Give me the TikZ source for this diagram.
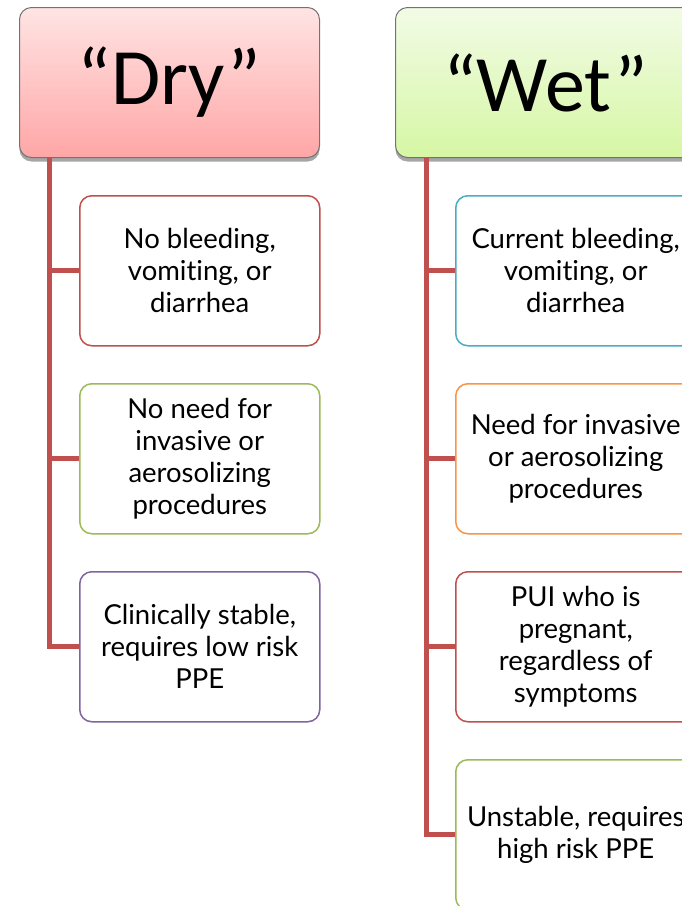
\documentclass[tikz,border=0pt]{standalone}
\usepackage{fontspec}
\setmainfont[Ligatures=NoCommon]{Lato}
\newfontfamily\headfont{Carlito}
\usetikzlibrary{shadows}
\definecolor{cred}{HTML}{C0504D}
\definecolor{cgreen}{HTML}{9BBB59}
\definecolor{cpurple}{HTML}{8064A2}
\definecolor{cblue}{HTML}{4BACC6}
\definecolor{corange}{HTML}{F79646}
\definecolor{dtop}{HTML}{FFE4E4}
\definecolor{dbot}{HTML}{FFA6A6}
\definecolor{wtop}{HTML}{F2FBE6}
\definecolor{wbot}{HTML}{D6F7A4}
\tikzset{
  x=1pt, y=-1pt,
  header/.style={draw=black!55, line width=1pt, rounded corners=12pt, minimum width=300pt, minimum height=150pt, anchor=north west, inner sep=0pt,
    font=\headfont\fontsize{80}{96}\selectfont,
    drop shadow={shadow xshift=0pt, shadow yshift=-4pt, opacity=0.35, fill=black}},
  item/.style={draw=#1, line width=1.5pt, fill=white, rounded corners=12pt, minimum width=240pt, minimum height=150pt, anchor=north west, inner sep=0pt, align=center,
    font=\fontsize{27.5}{32}\selectfont},
  link/.style={draw=cred, line width=5pt}
}
\begin{document}
\begin{tikzpicture}
\clip (0,0) rectangle (682,906);
\fill[white] (0,0) rectangle (682,906);
% headers
\node[header, top color=dtop, bottom color=dbot] (dry) at (19,7) {“Dry”};
\node[header, top color=wtop, bottom color=wbot] (wet) at (395,7) {“Wet”};
% dry items
\node[item=cred] (d1) at (79,195) {No bleeding,\\vomiting, or\\diarrhea};
\node[item=cgreen] (d2) at (79,383) {No need for\\invasive or\\aerosolizing\\procedures};
\node[item=cpurple] (d3) at (79,571) {Clinically stable,\\requires low risk\\PPE};
% wet items
\node[item=cblue] (w1) at (455,195) {Current bleeding,\\vomiting, or\\diarrhea};
\node[item=corange] (w2) at (455,383) {Need for invasive\\or aerosolizing\\procedures};
\node[item=cred] (w3) at (455,571) {PUI who is\\pregnant,\\regardless of\\symptoms};
\node[item=cgreen] (w4) at (455,759) {Unstable, requires\\high risk PPE};
% connectors
\coordinate (dtop) at ([xshift=30pt]dry.south west);
\coordinate (wtop) at ([xshift=31pt]wet.south west);
\foreach \b in {d1,d2,d3} \draw[link] (dtop) |- (\b.west);
\foreach \b in {w1,w2,w3,w4} \draw[link] (wtop) |- (\b.west);
\end{tikzpicture}
\end{document}
